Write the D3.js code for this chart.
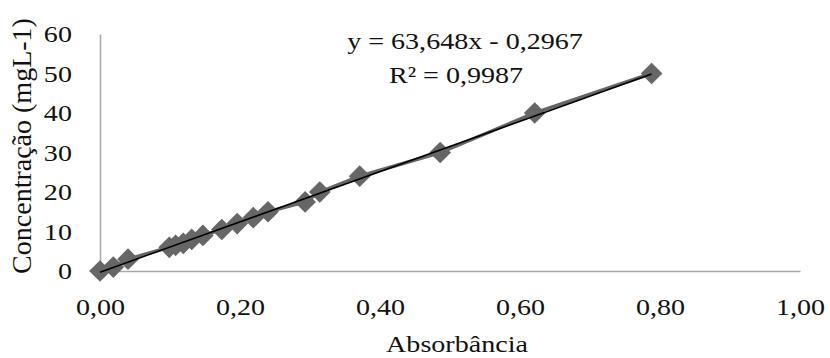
<!DOCTYPE html>
<html>
<head>
<meta charset="utf-8">
<script src="https://cdn.jsdelivr.net/npm/d3@7"></script>
<style>
  body { margin: 0; background: #fff; }
  svg { display: block; font-family: "Liberation Serif", "Times New Roman", serif; }
</style>
</head>
<body>
<svg id="chart" width="830" height="358"></svg>
<script>
// absorbance readings and matching concentrations (mg/L)
const absorbance = [0.000, 0.019, 0.040, 0.099, 0.108, 0.119, 0.131, 0.147, 0.174, 0.196, 0.219, 0.240, 0.293, 0.314, 0.371, 0.486, 0.621, 0.788];
const concentration = [0, 1, 3, 6, 6.5, 7, 8, 9, 10.5, 12, 13.5, 15, 17.5, 20, 24, 30, 40, 50];
const xTicks = [0, 0.2, 0.4, 0.6, 0.8, 1.0];
const yTicks = [0, 10, 20, 30, 40, 50, 60];
const slope = 63.648, intercept = -0.2967;
const eqLines = ['y = 63,648x  - 0,2967', 'R² = 0,9987'];

const svg = d3.select('#chart');
const sx = 1.17; // text in the source is a bit wide

const x = d3.scaleLinear().domain([0, 1]).range([100, 800]);
const y = d3.scaleLinear().domain([0, 60]).range([271, 34]);

const comma = f => v => d3.format(f)(v).replace('.', ',');

// axes
const xAxis = svg.append('g')
  .attr('transform', 'translate(0,' + y(0) + ')')
  .call(d3.axisBottom(x).tickValues(xTicks).tickFormat(comma('.2f')).tickSize(0).tickPadding(27));
const yAxis = svg.append('g')
  .attr('transform', 'translate(' + x(0) + ',0)')
  .call(d3.axisLeft(y).tickValues(yTicks).tickFormat(d3.format('d')).tickSize(0).tickPadding(24));

[xAxis, yAxis].forEach(a => {
  a.select('.domain').attr('stroke', '#a6a6a6').attr('stroke-width', 1.5);
  a.selectAll('text')
    .attr('font-family', '"Liberation Serif", serif')
    .attr('font-size', 24)
    .attr('fill', '#111')
    .attr('transform', 'scale(' + sx + ',1)');
});

// data line + markers
const pts = absorbance.map((a, i) => [a, concentration[i]]);
svg.append('path')
  .datum(pts)
  .attr('fill', 'none')
  .attr('stroke', '#666')
  .attr('stroke-width', 3.5)
  .attr('d', d3.line().x(d => x(d[0])).y(d => y(d[1])));

svg.append('g').selectAll('path')
  .data(pts)
  .enter().append('path')
  .attr('transform', d => 'translate(' + x(d[0]) + ',' + y(d[1]) + ')')
  .attr('d', d3.symbol().type(d3.symbolDiamond2).size(300))
  .attr('fill', '#666');

// linear trendline
const xr = d3.extent(absorbance);
svg.append('line')
  .attr('x1', x(xr[0])).attr('y1', y(slope * xr[0] + intercept))
  .attr('x2', x(xr[1])).attr('y2', y(slope * xr[1] + intercept))
  .attr('stroke', '#000')
  .attr('stroke-width', 1.5);

// equation
svg.selectAll('.eq')
  .data(eqLines)
  .enter().append('text')
  .attr('class', 'eq')
  .attr('transform', (d, i) => 'translate(' + (i ? 456 : 465) + ',' + (i ? 83 : 49) + ') scale(' + sx + ',1)')
  .attr('text-anchor', 'middle')
  .attr('font-size', 24)
  .attr('fill', '#111')
  .text(d => d);

// axis titles
svg.append('text')
  .attr('transform', 'translate(457,352) scale(' + sx + ',1)')
  .attr('text-anchor', 'middle')
  .attr('font-size', 24)
  .attr('fill', '#111')
  .text('Absorbância');

svg.append('text')
  .attr('transform', 'translate(31,146) rotate(-90)')
  .attr('text-anchor', 'middle')
  .attr('font-size', 28)
  .attr('fill', '#111')
  .text('Concentração (mgL-1)');
</script>
</body>
</html>
